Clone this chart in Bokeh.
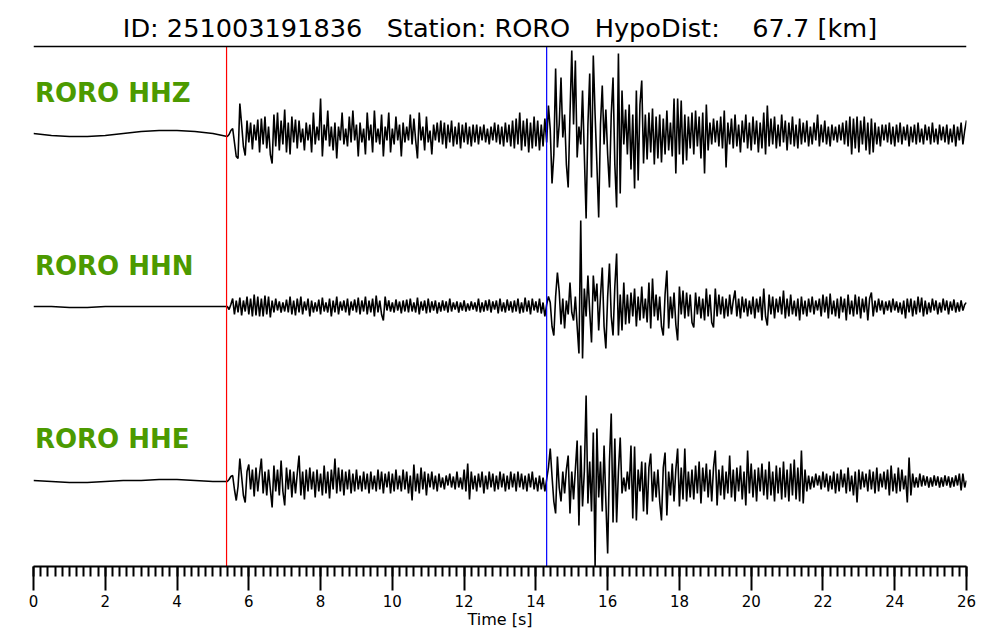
import numpy as np
from bokeh.plotting import figure
from bokeh.models import Range1d, SingleIntervalTicker
from bokeh.core.properties import value
from bokeh.embed import file_html
from bokeh.resources import INLINE

NB = "\u00a0"
TITLE = "ID: 251003191836" + NB * 2 + " Station: RORO" + NB * 2 + " HypoDist:" + NB * 3 + " 67.7 [km]"
CHANNELS = ["RORO HHZ", "RORO HHN", "RORO HHE"]
P_PICK = 5.38
S_PICK = 14.30
T_START = 0.0
T_END = 26.0
PRE_DT = 0.5
POST_T0 = 5.40
POST_DT = 0.05

HHZ_PRE = [1, -1, -2, -2, -1, 1, 3, 4, 4, 3, 1]
HHZ_POST = [
    -2, 0, 4, 6, -8, -22, -24, 31, 10, -12, -21, 14, -8, 12, -15, 10, -6, 15, -18, 16,
    -10, 18, -14, 8, -20, -29, 20, -12, 22, -16, 14, -10, 25, -18, 12, -20, 18, -8, 15, -14,
    14, -8, 6, -16, 12, -6, 10, -18, 22, -10, 8, -6, 36, -22, 10, -6, 24, -12, 8, -16,
    12, -24, 8, -6, 22, -10, 6, -12, 18, -8, 24, -6, 10, -22, 12, -8, 6, -20, 22, -6,
    10, -18, 24, -8, 6, -10, 20, -22, 8, -6, 22, -18, 6, -10, 18, -6, 10, -22, 12, -8,
    8, -6, 20, -10, 16, -6, -24, 22, -6, 8, -16, 18, -8, 4, -20, 10, -6, 12, -8, 14,
    -10, 12, -14, 10, -8, 14, -12, 8, -10, 12, -14, 10, -8, 12, -10, 8, -12, 10, -8, 10,
    -10, 8, -6, 10, -8, 6, -10, 8, -6, 12, -8, 10, -10, 8, -12, 12, -8, 10, -12, 14,
    -14, 16, -10, 22, -16, 14, -12, 16, -18, 12, -14, 18, -12, 14, -16, 10, -12, 16, -8, 29,
    5, -49, -20, 66, -13, 10, 57, -3, 20, -30, -53, 20, 84, 10, 74, -23, 8, -10, 44, -20,
    -84, 10, 61, -43, 79, 20, -30, -83, 10, 49, -10, 25, -20, -53, 20, 57, -30, -73, 81, -59,
    44, -10, 25, -20, 30, -35, 20, -54, 44, -46, 30, 54, -29, 20, -25, 22, -18, 26, -30, 18,
    -24, 20, -28, 16, -20, 24, -16, 12, -22, 36, -39, 36, -20, 34, -30, 20, -26, 18, -14, 22,
    -20, 24, -12, 18, -24, 22, -39, 30, -16, 12, -10, 16, -8, 14, -12, 18, -14, 24, -33, 12,
    -10, 16, -14, 20, -12, 10, -18, 14, -8, 20, -14, 12, -16, 18, -10, 14, -18, 12, -14, 22,
    -20, 29, -12, 16, -10, 18, -14, 10, -12, 20, -8, 14, -16, 12, -10, 18, -12, 10, -14, 16,
    -10, 12, -8, 14, -12, 8, -10, 12, -6, 20, -12, 10, -8, 14, -10, 8, -12, 10, -6, 8,
    -8, 10, -6, 12, -10, 14, -12, 18, -20, 16, -14, 18, -18, 14, -10, 18, -16, 12, -20, 16,
    -18, 12, -10, 8, -12, 10, -6, 10, -8, 12, -10, 8, -12, 10, -8, 12, -10, 8, -6, 10,
    -12, 8, -8, 10, -10, 12, -8, 6, -10, 10, -6, 8, -10, 12, -8, 6, -10, 10, -6, 8,
    -8, 10, -10, 6, -8, 10, -12, 8, -6, 12, -10, 4, 14,
]

HHN_PRE = [0, 0, -1, -1, 0, 0, 0, 0, 0, 0, 0]
HHN_POST = [
    0, -3, 2, 8, -8, 6, -6, 9, -9, 6, -5, 10, -8, 8, -10, 12, -9, 10, -10, 8,
    -10, 11, -8, 10, -11, 6, -6, 8, -4, 5, -6, 4, -5, 7, -6, 10, -8, 6, -9, 8,
    -6, 10, -8, 5, -4, 8, -10, 6, -6, 4, -5, 7, -8, 9, -5, 4, -6, 8, -10, 6,
    -6, 10, -8, 5, -4, 6, -6, 8, -9, 5, -4, 7, -6, 9, -8, 6, -5, 10, -8, 6,
    -6, 8, -10, 11, -6, 6, -8, -14, 10, -4, 6, -5, 4, -6, 7, -4, 5, -7, 6, -5,
    7, -6, 8, -5, 4, -6, 9, -8, 5, -4, 6, -7, 8, -6, 5, -4, 6, -7, 4, -5,
    6, -4, 5, -6, 8, -5, 4, -3, 5, -6, 4, -4, 6, -5, 3, -4, 5, -3, 4, -5,
    8, -6, 4, -5, 6, -4, 7, -6, 5, -3, 6, -7, 8, -5, 4, -6, 7, -4, 5, -6,
    6, -5, 8, -7, 4, -6, 9, -5, 6, -8, 8, -4, 5, -6, 8, -7, 4, -10, 2, 10,
    4, -20, -29, 10, 34, 15, -18, 8, -22, 6, -8, 24, -6, -14, 10, -20, -47, 86, -52, 18,
    -10, 31, -5, -36, 31, 5, 23, -24, 10, 39, -20, -42, 10, 43, -10, -29, 20, 53, -29, 12,
    -24, 24, -18, 12, -17, 14, -10, 18, -20, 10, -14, 20, -12, 8, -16, 24, -22, 28, -10, 12,
    -14, 10, -20, -29, 12, 36, -22, 10, -12, 14, -18, -34, 20, -8, 16, -12, 14, -10, 12, -16,
    -21, 14, -8, 10, -12, 8, -14, 18, -10, 12, -16, -21, 18, -10, 12, -8, 10, -12, 8, -10,
    12, -8, 6, 16, -10, 8, -12, 10, -6, 8, -10, 6, -8, 10, -12, 8, -6, 10, -14, 18,
    -10, -19, 12, -8, 10, -12, 8, -6, 10, -8, 16, -12, 8, -10, 12, -8, 6, -10, 8, -14,
    10, -8, 6, -10, 8, -6, 10, -8, 6, -4, 8, -10, 12, -6, 10, -12, 13, -8, 6, -10,
    8, -12, 10, -6, 8, -14, 12, -8, 6, -10, 12, -8, 10, -12, 8, -6, 10, -14, 8, 14,
    -10, 6, -6, 8, -4, 6, -8, 5, -4, 6, -6, 8, -4, 5, -6, 4, -8, 6, -12, 8,
    -6, 8, -10, 6, -8, 10, -6, 9, -10, 6, -8, 4, -6, 8, -4, 6, -8, 4, -6, 8,
    -4, 6, -8, 5, -4, 7, -6, 4, -5, 6, -4, 2, 4,
]

HHE_PRE = [1, 0, -1, -1, 0, 1, 1, 2, 2, 1, 0]
HHE_POST = [
    0, 2, 5, 6, -8, -19, -5, 23, 5, -14, -21, 10, 17, -8, 12, -15, 14, -10, 8, 23,
    -12, 10, -14, 12, -8, -26, 16, -10, 12, -14, 21, -10, -24, 14, -8, 12, -16, 10, -12, 8,
    26, -14, 10, -18, 12, -10, 14, -8, 10, -16, 12, -10, 8, -14, 16, -12, 10, -17, 12, -8,
    23, -12, 14, -10, 12, -14, 10, -8, 12, -12, 8, -10, 12, -8, 6, -10, 10, -8, 8, -12,
    10, -8, 6, -10, 12, -8, 10, -12, 8, -6, 10, -12, 8, -10, 12, -8, 6, -10, 12, -8,
    10, -12, 6, -19, 17, -10, 8, -12, 14, -8, 10, -14, 8, -6, 10, -8, 6, -10, 8, -6,
    4, -8, 6, -4, 8, -6, 5, -8, 10, -6, 4, -8, 12, -10, 18, -18, 10, -8, 6, -10,
    8, -6, 10, -12, 6, -8, 10, -6, 8, -10, 6, -8, 10, -6, 8, -10, 6, -8, 10, -6,
    8, -10, 10, -6, 8, -8, 6, -10, 8, -6, 10, -8, 4, -10, 6, -8, 4, -10, 2, 14,
    33, 5, -20, -32, 25, -6, -20, 10, -12, 12, 26, -32, 10, -18, 12, 41, -44, 36, -25, 10,
    86, -22, 20, -30, 49, -85, 53, -16, 20, -30, 36, -20, -72, 20, 68, -41, 43, -41, 10, 44,
    -12, 4, -10, 10, -8, 36, -37, 35, -39, 12, -10, 20, -30, 19, -33, 14, 28, -20, 10, -16,
    12, -20, -39, 14, 29, -34, 10, -14, 18, -20, 12, 33, -25, 14, -18, 33, -20, 10, -16, 12,
    -18, 16, -12, 20, -22, 14, -10, 18, -16, 12, -20, 14, 31, -24, 12, -14, 16, -18, 10, -12,
    26, -16, 12, -20, 14, -10, 16, -18, 10, -24, 31, -12, 18, -16, 12, -20, 14, -10, 18, -14,
    12, -18, 20, -14, 10, -20, 16, -12, 14, -18, 20, -16, 12, -20, 18, -14, 22, -18, 14, -20,
    31, -22, 12, -10, 6, -8, 5, -6, 8, -4, 6, -8, 10, -6, 8, -10, 6, -8, 10, -12,
    8, -10, 12, -6, 8, -12, 14, -10, 6, -14, 10, -21, 12, -8, 10, -6, 8, -10, 12, -8,
    10, -12, 14, -10, 8, -6, 10, -8, 12, -14, 16, -10, 8, -12, 14, -10, 12, -8, 6, -21,
    24, -14, 8, -6, 4, -6, 8, -5, 6, -4, 5, -6, 4, -5, 6, -4, 5, -6, 4, -5,
    6, -4, 5, -6, 4, -5, 6, -4, 8, -9, 8, -6, 1,
]

TRACES = [(HHZ_PRE, HHZ_POST), (HHN_PRE, HHN_POST), (HHE_PRE, HHE_POST)]

# ---- layout (pixel-like data units: 1 unit = 1 px vertically) ----
W, H = 1000, 640
BORDER_L, BORDER_R, BORDER_B = 33, 34, 74
Y_TOP = H - BORDER_B
BASELINES = [432, 260, 85]
LABEL_Y = [474, 301, 128]
TOPLINE_Y = 520
TITLE_Y = 539

p = figure(width=W, height=H, output_backend="svg", toolbar_location=None,
           x_range=Range1d(T_START, T_END), y_range=Range1d(0, Y_TOP),
           y_axis_location=None, min_border_left=BORDER_L, min_border_right=BORDER_R,
           min_border_top=0, min_border_bottom=BORDER_B)
p.outline_line_color = None
p.xgrid.visible = False
p.ygrid.visible = False
p.background_fill_color = "white"
p.border_fill_color = "white"

for (pre, post), base in zip(TRACES, BASELINES):
    t_pre = T_START + PRE_DT * np.arange(len(pre))
    t_post = POST_T0 + POST_DT * np.arange(len(post))
    t = np.concatenate([t_pre, t_post])
    y = base + np.concatenate([np.asarray(pre, float), np.asarray(post, float)])
    p.line(t, y, line_color="black", line_width=1.6)

# phase picks
p.segment(x0=[P_PICK], y0=[0], x1=[P_PICK], y1=[TOPLINE_Y], line_color="#ff0000", line_width=1.2)
p.segment(x0=[S_PICK], y0=[0], x1=[S_PICK], y1=[TOPLINE_Y], line_color="#0000ff", line_width=1.2)

# top rule
p.segment(x0=[T_START], y0=[TOPLINE_Y], x1=[T_END], y1=[TOPLINE_Y], line_color="black", line_width=1.5)

# channel labels
p.text(x=[T_START + 0.04] * 3, y=LABEL_Y, text=CHANNELS, text_color="#4c9a00",
       text_font=value("DejaVu Sans"), text_font_style="bold", text_font_size="26px",
       text_align="left", text_baseline="middle")

# title
p.text(x=[(T_START + T_END) / 2], y=[TITLE_Y], text=[TITLE], text_color="black",
       text_font=value("DejaVu Sans"), text_font_size="25.6px",
       text_align="center", text_baseline="middle")

ax = p.xaxis[0]
ax.ticker = SingleIntervalTicker(interval=2, num_minor_ticks=10)
ax.axis_line_width = 2
ax.axis_line_color = "black"
ax.major_tick_line_width = 2
ax.minor_tick_line_width = 2
ax.major_tick_out = 24
ax.major_tick_in = 0
ax.minor_tick_out = 10
ax.minor_tick_in = 0
ax.major_label_standoff = 4
ax.major_label_text_font = "DejaVu Sans"
ax.major_label_text_font_size = "15px"
ax.major_label_text_color = "black"
ax.axis_label = "Time [s]"
ax.axis_label_text_font = "DejaVu Sans"
ax.axis_label_text_font_style = "normal"
ax.axis_label_text_font_size = "16px"
ax.axis_label_standoff = 0
ax.axis_label_text_color = "black"

open("out.html", "w").write(file_html(p, INLINE))
